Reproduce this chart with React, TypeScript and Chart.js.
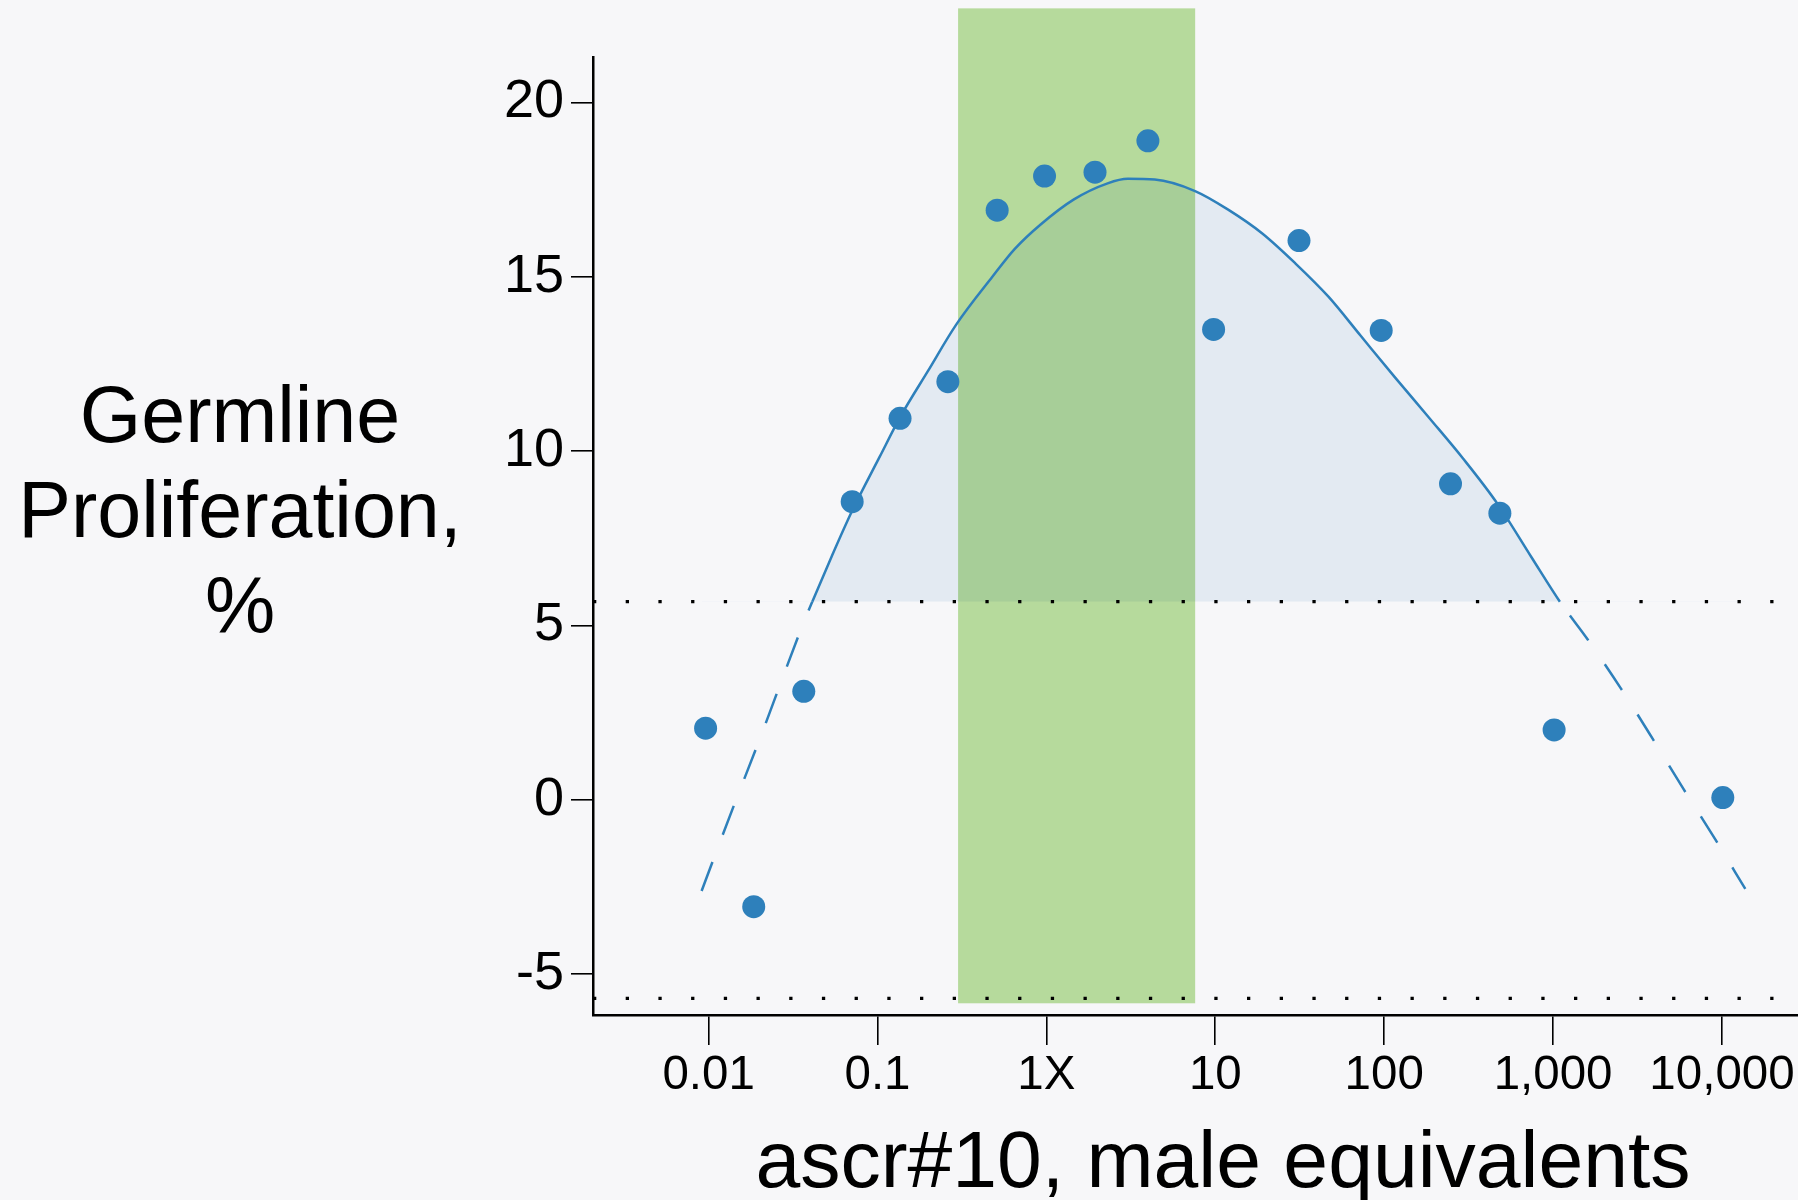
import React, { useEffect, useRef } from 'react';
import { Chart, registerables } from 'chart.js';

Chart.register(...registerables);

// ---- data ----
const doseX = [0.0096, 0.0185, 0.0366, 0.0708, 0.136, 0.261, 0.511, 0.975, 1.94, 3.99, 9.77, 31.3, 96, 247, 484, 1014, 10110];
const prolifY = [2.05, -3.07, 3.11, 8.55, 10.94, 11.99, 16.91, 17.89, 18.0, 18.9, 13.49, 16.04, 13.46, 9.06, 8.22, 2.0, 0.06];

const fitX = [0.00909, 0.01059, 0.01439, 0.01972, 0.03606, 0.04111, 0.05345, 0.07068, 0.1031, 0.1364, 0.1991, 0.2917, 0.4786, 0.65, 0.9245, 1.456, 2.303, 3.034, 4.378, 7.59, 11.98, 18.9, 29.72, 46.77, 72.8, 116.5, 184.9, 293.8, 466.8, 741.4, 1097, 1611, 2529, 3873, 5912, 9050, 13740];
const fitY = [-2.62, -1.76, -0.06, 1.64, 5.01, 5.68, 6.97, 8.28, 9.84, 10.98, 12.3, 13.62, 15.0, 15.8, 16.5, 17.22, 17.68, 17.81, 17.79, 17.46, 16.92, 16.25, 15.39, 14.43, 13.3, 12.1, 10.95, 9.78, 8.5, 6.97, 5.68, 4.58, 3.18, 1.76, 0.31, -1.11, -2.56];

const threshold = 5.68;
const controlLimits = [5.68, -5.7];
const bandX = [0.3, 7.6];
const bandY = [-5.84, 22.7];

const xTickValues = [0.01, 0.1, 1, 10, 100, 1000, 10000];
const xTickLabels = ['0.01', '0.1', '1X', '10', '100', '1,000', '10,000'];
const yTickValues = [-5, 0, 5, 10, 15, 20];

const xTitle = 'ascr#10, male equivalents';
const yTitleLines = ['Germline', 'Proliferation,', '%'];

// ---- styles ----
const BG = '#f7f7f9';
const BLUE = '#2e80bb';
const FILL = '#e3eaf2';
const BAND = 'rgb(188,225,160)';
const FONT = 'Liberation Sans';

const decor = {
  id: 'decor',
  beforeDraw(chart: any) {
    const { ctx } = chart;
    ctx.save();
    ctx.fillStyle = BG;
    ctx.fillRect(0, 0, chart.width, chart.height);
    ctx.restore();
  },
  beforeDatasetsDraw(chart: any) {
    const { ctx, chartArea, scales } = chart;
    const x = scales.x;
    const y = scales.y;
    ctx.save();
    ctx.globalCompositeOperation = 'multiply';
    ctx.fillStyle = BAND;
    const x0 = x.getPixelForValue(bandX[0]);
    const x1 = x.getPixelForValue(bandX[1]);
    const y0 = y.getPixelForValue(bandY[1]);
    const y1 = y.getPixelForValue(bandY[0]);
    ctx.fillRect(x0, y0, x1 - x0, y1 - y0);
    ctx.restore();

    ctx.save();
    ctx.strokeStyle = '#000';
    ctx.lineWidth = 3.3;
    ctx.lineCap = 'butt';
    ctx.setLineDash([3.3, 29.4]);
    for (const v of controlLimits) {
      const py = y.getPixelForValue(v);
      ctx.beginPath();
      ctx.moveTo(chartArea.left, py);
      ctx.lineTo(chartArea.right, py);
      ctx.stroke();
    }
    ctx.restore();
  },
  afterDraw(chart: any) {
    const { ctx } = chart;
    ctx.save();
    ctx.fillStyle = '#000';
    ctx.textAlign = 'center';
    ctx.textBaseline = 'alphabetic';
    ctx.font = `79px "${FONT}"`;
    const baselines = [441.7, 537.3, 633.3];
    yTitleLines.forEach((t, i) => ctx.fillText(t, 240, baselines[i]));
    ctx.font = `80.5px "${FONT}"`;
    ctx.fillText(xTitle, 1223, 1186.7);
    ctx.restore();
  },
};

const isBelow = (c: any) =>
  c.p0.parsed.y < threshold - 1e-6 || c.p1.parsed.y < threshold - 1e-6;

export default function App() {
  const ref = useRef<HTMLCanvasElement | null>(null);

  useEffect(() => {
    if (!ref.current) return;
    Chart.defaults.font.family = FONT;
    const chart = new Chart(ref.current, {
      type: 'line',
      data: {
        datasets: [
          {
            label: 'data',
            data: doseX.map((v, i) => ({ x: v, y: prolifY[i] })),
            showLine: false,
            pointRadius: 11.5,
            pointBackgroundColor: BLUE,
            pointBorderWidth: 0,
            borderColor: BLUE,
            order: 0,
          } as any,
          {
            label: 'fit',
            data: fitX.map((v, i) => ({ x: v, y: fitY[i] })),
            borderColor: BLUE,
            borderWidth: 2.5,
            pointRadius: 0,
            cubicInterpolationMode: 'monotone',
            fill: { target: { value: threshold }, above: FILL, below: 'rgba(0,0,0,0)' },
            borderDash: [],
            segment: {
              borderDash: (c: any) => (isBelow(c) ? [31, 29] : undefined),
              borderDashOffset: (c: any) => (isBelow(c) && c.p0.parsed.x > 100 ? 43 : undefined),
            },
            order: 1,
          } as any,
        ],
      },
      options: {
        animation: false,
        responsive: false,
        events: [],
        layout: { autoPadding: false, padding: { top: 57, left: 0, right: 0, bottom: 0 } },
        plugins: {
          legend: { display: false },
          tooltip: { enabled: false },
          filler: { drawTime: 'beforeDatasetsDraw' },
        } as any,
        scales: {
          x: {
            type: 'logarithmic',
            min: 0.002068,
            max: 28184,
            bounds: 'data',
            border: { display: true, color: '#000', width: 2.5 },
            grid: {
              drawOnChartArea: false,
              drawTicks: true,
              tickLength: 30,
              tickColor: '#000',
              tickWidth: 1.6,
              lineWidth: 1.6,
            },
            ticks: {
              autoSkip: false,
              maxRotation: 0,
              minRotation: 0,
              padding: -4,
              color: '#000',
              font: { family: FONT, size: 47.5, lineHeight: 1.46 },
              callback: (_v: any, i: number) => xTickLabels[i],
            },
            afterBuildTicks: (s: any) => {
              s.ticks = xTickValues.map((v) => ({ value: v }));
            },
            afterFit: (s: any) => {
              s.height = 185;
              s.paddingLeft = 0;
              s.paddingRight = 0;
            },
          } as any,
          y: {
            type: 'linear',
            min: -6.176,
            max: 21.305,
            bounds: 'data',
            border: { display: true, color: '#000', width: 2.5 },
            grid: {
              drawOnChartArea: false,
              drawTicks: true,
              tickLength: 22,
              tickColor: '#000',
              tickWidth: 1.6,
              lineWidth: 1.6,
            },
            ticks: {
              padding: 7,
              color: '#000',
              font: { family: FONT, size: 54 },
              callback: (v: any) => String(v),
            },
            afterBuildTicks: (s: any) => {
              s.ticks = yTickValues.map((v) => ({ value: v }));
            },
            afterFit: (s: any) => {
              s.width = 593;
              s.paddingTop = 0;
              s.paddingBottom = 0;
            },
          } as any,
        },
      },
      plugins: [decor],
    });
    return () => chart.destroy();
  }, []);

  return (
    <div
      style={{
        position: 'fixed',
        left: 0,
        top: 0,
        width: 1798,
        height: 1200,
        background: BG,
      }}
    >
      <canvas ref={ref} width={1798} height={1200} style={{ display: 'block' }} />
    </div>
  );
}
